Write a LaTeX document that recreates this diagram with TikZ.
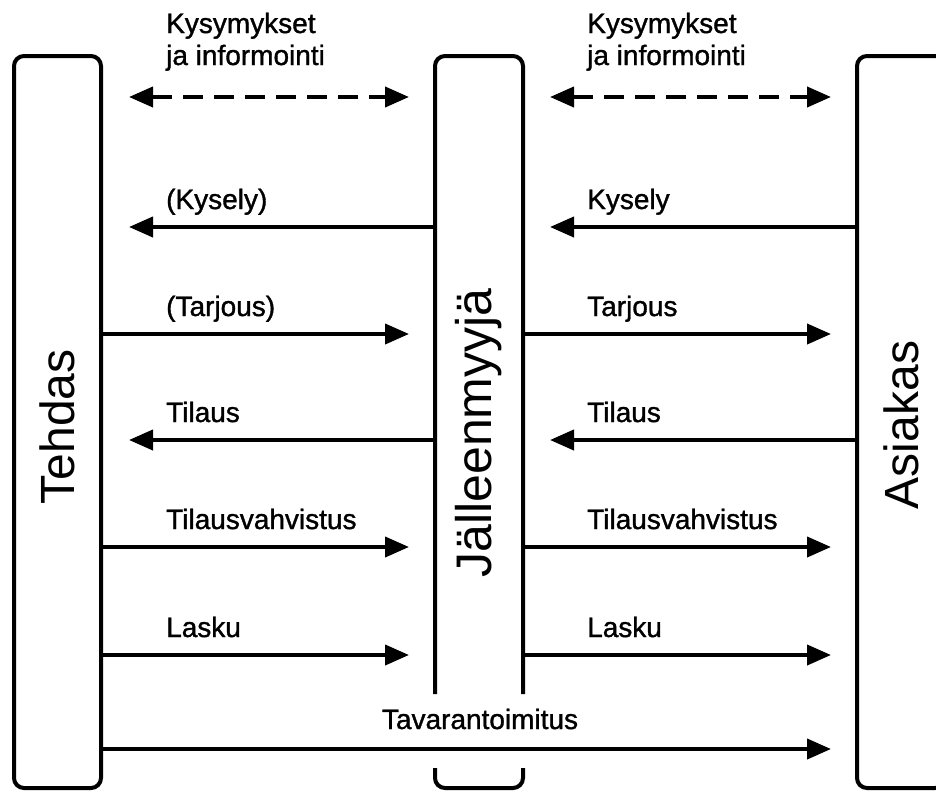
\documentclass[tikz,border=0pt]{standalone}
\usepackage{fontspec}
\setmainfont{Liberation Sans}
\newfontfamily\lblfont{Liberation Sans}[RawFeature={embolden=1.2}]
\usetikzlibrary{arrows.meta}
\begin{document}
\begin{tikzpicture}[x=1pt,y=-1pt,
  boxline/.style={line width=4pt, rounded corners=10pt},
  msg/.style={line width=4pt, -{Triangle[length=24pt,width=20pt]}},
  dmsg/.style={line width=4pt, {Triangle[length=24pt,width=20pt]}-{Triangle[length=24pt,width=20pt]}, dash pattern=on 20pt off 11pt},
  lbl/.style={anchor=base west, inner sep=0pt, font=\lblfont\fontsize{28}{32}\selectfont},
  lblc/.style={anchor=base, inner sep=0pt, font=\lblfont\fontsize{28}{32}\selectfont},
  actor/.style={rotate=90, inner sep=0pt, font=\fontsize{48}{56}\selectfont}]
\useasboundingbox (0,0) rectangle (936,790);
\clip (0,0) rectangle (936,790);
% boxes
\draw[boxline] (14,56) rectangle (101,788);
\draw[boxline] (435,694) -- (435,56) -- (523,56) -- (523,694);
\draw[boxline] (435,768) -- (435,788) -- (523,788) -- (523,768);
\draw[boxline] (857,56) rectangle (945,788);
\node[actor] (teh) at (57,427) {Tehdas};
\node[actor] (jal) at (479,433) {\fontsize{50}{58}\selectfont Jälleenmyyjä};
\node[actor] (asi) at (901,425) {Asiakas};
% coordinates
\foreach \r/\y in {a/97,b/227,c/334,d/440,e/547,f/655,g/749}{
  \coordinate (L\r) at (101,\y);
  \coordinate (Lt\r) at (129,\y);
  \coordinate (Mt\r) at (409,\y);
  \coordinate (Ml\r) at (435,\y);
  \coordinate (Mr\r) at (523,\y);
  \coordinate (Ns\r) at (550,\y);
  \coordinate (Rt\r) at (831,\y);
  \coordinate (R\r) at (857,\y);
}
% row a: dashed
\draw[dmsg] (Lta) -- (Mta);
\draw[dmsg] (Nsa) -- (Rta);
\node[lbl] (qa1) at (166,33) {Kysymykset};
\node[lbl] (qa2) at (166,65) {ja informointi};
\node[lbl] (qb1) at (587,33) {Kysymykset};
\node[lbl] (qb2) at (587,65) {ja informointi};
% row b
\draw[msg] (Mlb) -- (Ltb);
\draw[msg] (Rb) -- (Nsb);
\node[lbl] at (166,209) {(Kysely)};
\node[lbl] at (587,209) {Kysely};
% row c
\draw[msg] (Lc) -- (Mtc);
\draw[msg] (Mrc) -- (Rtc);
\node[lbl] at (166,316) {(Tarjous)};
\node[lbl] at (587,316) {Tarjous};
% row d
\draw[msg] (Mld) -- (Ltd);
\draw[msg] (Rd) -- (Nsd);
\node[lbl] at (166,422) {Tilaus};
\node[lbl] at (587,422) {Tilaus};
% row e
\draw[msg] (Le) -- (Mte);
\draw[msg] (Mre) -- (Rte);
\node[lbl] at (166,529) {Tilausvahvistus};
\node[lbl] at (587,529) {Tilausvahvistus};
% row f
\draw[msg] (Lf) -- (Mtf);
\draw[msg] (Mrf) -- (Rtf);
\node[lbl] at (166,637) {Lasku};
\node[lbl] at (587,637) {Lasku};
% row g
\draw[msg] (Lg) -- (Rtg);
\node[lblc] at (480,729) {Tavarantoimitus};
\end{tikzpicture}
\end{document}
